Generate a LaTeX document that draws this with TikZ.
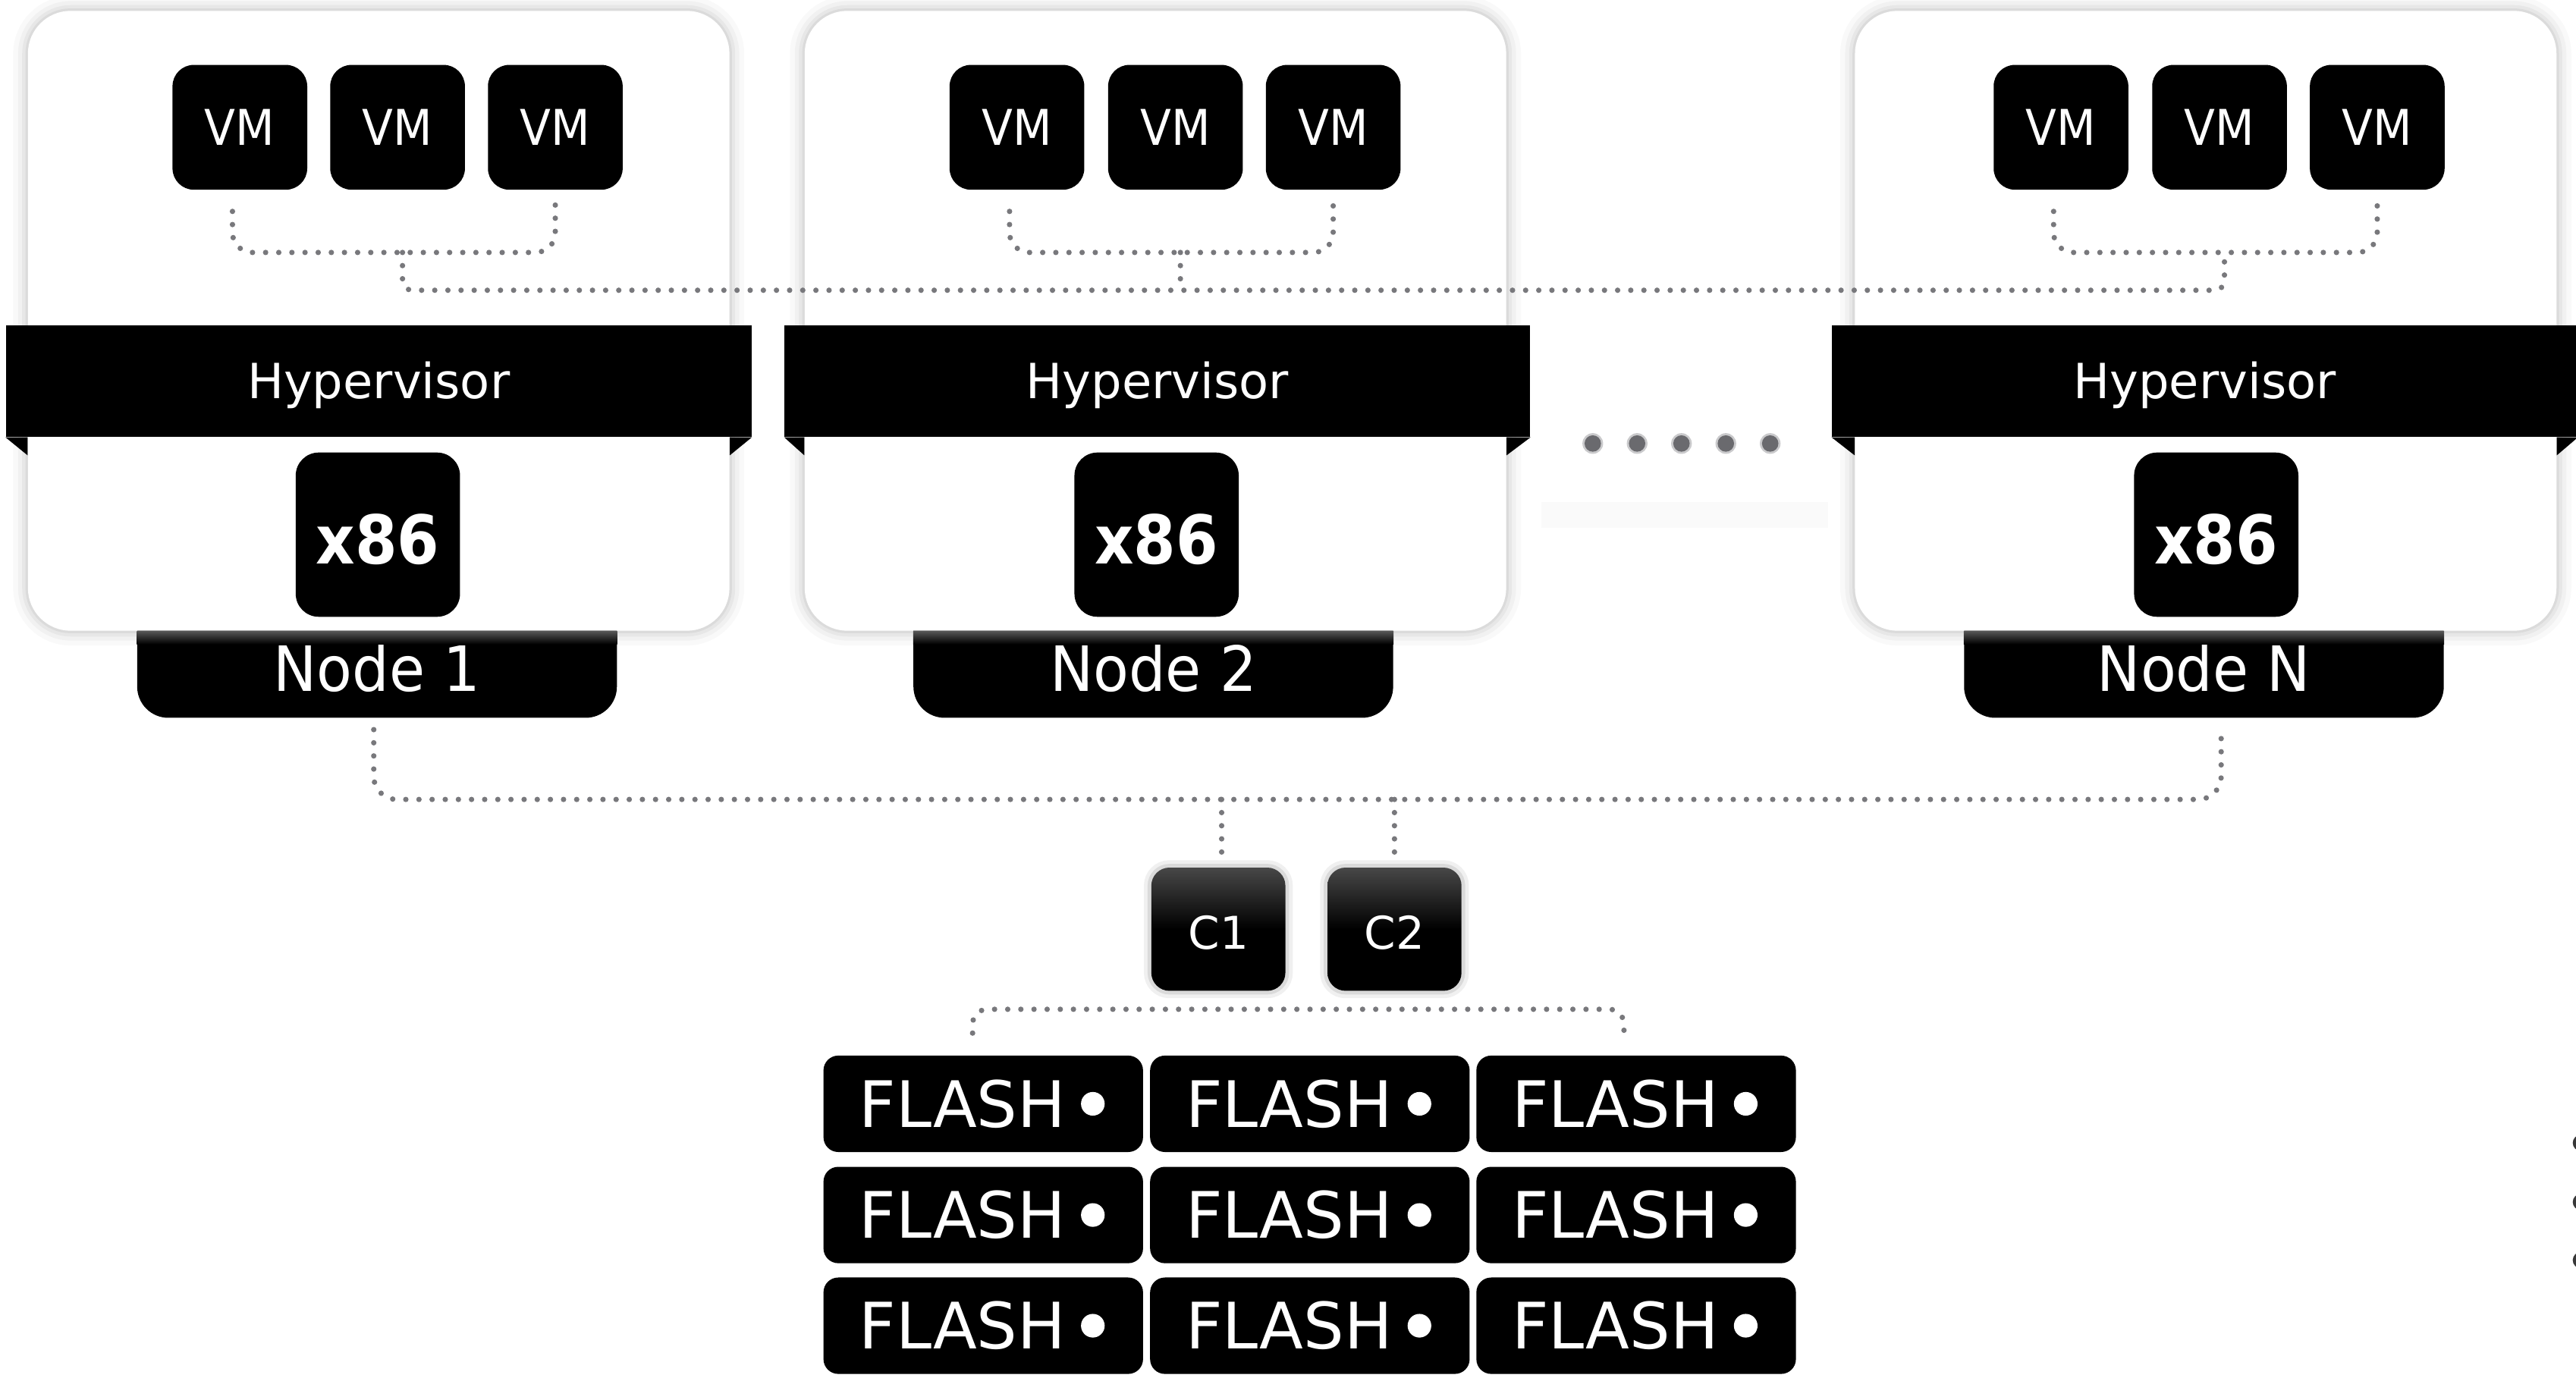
\documentclass[tikz,border=0pt]{standalone}
\usepackage{fontspec}
\newfontfamily\dv{DejaVu Sans}
\newfontfamily\fvm[FakeStretch=0.92]{DejaVu Sans}
\newfontfamily\fnd[FakeStretch=0.93]{DejaVu Sans}
\newfontfamily\fxb[FakeStretch=0.9]{DejaVu Sans Bold}
\definecolor{dotgray}{RGB}{120,120,124}
\definecolor{elgray}{RGB}{106,106,110}
\tikzset{
  halo/.style={preaction={draw=black,draw opacity=0.025,line width=18pt},
               preaction={draw=black,draw opacity=0.03,line width=12pt},
               preaction={draw=black,draw opacity=0.04,line width=7pt},
               preaction={draw=black,draw opacity=0.05,line width=3pt}},
  smallhalo/.style={preaction={draw=black,draw opacity=0.06,line width=9pt},
               preaction={draw=black,draw opacity=0.09,line width=4.5pt}},
  whitebox/.style={halo, fill=white, rounded corners=26pt, minimum width=427pt, minimum height=377.4pt, inner sep=0pt},
  hypbar/.style={fill=black, minimum width=454pt, minimum height=68pt, inner sep=0pt, text=white,
                 font=\dv\fontsize{29.5}{30}\selectfont, text height=21.5pt, text depth=0pt},
  vmbox/.style={fill=black, rounded corners=13pt, minimum width=82pt, minimum height=76pt, inner sep=0pt,
                text=white, font=\fvm\fontsize{30}{32}\selectfont},
  cpubox/.style={fill=black, rounded corners=14pt, minimum size=100pt, inner sep=0pt, text=white,
                 font=\fxb\fontsize{41}{43}\selectfont, text height=35.5pt, text depth=0pt},
  nlabel/.style={fill=black, rounded corners=19pt, minimum width=292pt, minimum height=73pt, inner sep=0pt,
                 text=white, font=\fnd\fontsize{38}{39}\selectfont, text height=40.5pt, text depth=0pt},
  ctrl/.style={smallhalo, rounded corners=11pt, top color=black!72, bottom color=black, middle color=black,
               minimum width=81.6pt, minimum height=75pt, inner sep=0pt, text=white,
               font=\dv\fontsize{27.5}{29}\selectfont, text height=24pt, text depth=0pt},
  flashbox/.style={fill=black, rounded corners=9pt, minimum width=194.5pt, minimum height=58.7pt, inner sep=0pt},
  flashtext/.style={text=white, font=\dv\fontsize{39}{40}\selectfont, inner sep=0pt},
  dotline/.style={draw=dotgray, line width=3.3pt, line cap=round, dash pattern=on 0pt off 8pt}
}
\begin{document}
\begin{tikzpicture}[x=1pt,y=-1pt]
\clip (0,0) rectangle (1568,838.5);
\fill[white] (0,0) rectangle (1568,838.5);

% node labels (top part hidden under the white boxes)
\node[nlabel] (lab1) at (229.5,400.5) {Node 1};
\node[nlabel] (lab2) at (702,400.5) {Node 2};
\node[nlabel] (labN) at (1341.5,400.5) {Node N};

% white server boxes
\node[whitebox] (box1) at (230.5,195.3) {};
\node[whitebox] (box2) at (703.3,195.3) {};
\node[whitebox] (boxN) at (1342.6,195.3) {};

% light gradient at the top of the labels
\foreach \n in {1,2,N}{
  \coordinate (gl\n) at (lab\n.west |- box\n.south);
  \coordinate (gr\n) at (lab\n.east |- box\n.south);
  \shade[top color=black!66, bottom color=black] (gl\n) rectangle ([yshift=-8pt]gr\n);
}

% hypervisor bars
\node[hypbar] (hyp1) at (230.5,232) {Hypervisor};
\node[hypbar] (hyp2) at (704.5,232) {Hypervisor};
\node[hypbar] (hypN) at (1342,232) {Hypervisor};
\foreach \n in {1,2,N}{
  \coordinate (fl\n) at (box\n.west |- hyp\n.south);
  \coordinate (fr\n) at (box\n.east |- hyp\n.south);
  \fill[black] (hyp\n.south west) -- (fl\n) -- ([yshift=-11pt]fl\n) -- cycle;
  \fill[black] (hyp\n.south east) -- (fr\n) -- ([yshift=-11pt]fr\n) -- cycle;
}

% VMs
\node[vmbox] (v11) at (146,77.5) {VM};
\node[vmbox] (v12) at (242,77.5) {VM};
\node[vmbox] (v13) at (338,77.5) {VM};
\node[vmbox] (v21) at (619,77.5) {VM};
\node[vmbox] (v22) at (715.5,77.5) {VM};
\node[vmbox] (v23) at (811.5,77.5) {VM};
\node[vmbox] (vN1) at (1254.5,77.5) {VM};
\node[vmbox] (vN2) at (1351,77.5) {VM};
\node[vmbox] (vN3) at (1447,77.5) {VM};

% x86
\node[cpubox] (p1) at (230,325.5) {x86};
\node[cpubox] (p2) at (704,325.5) {x86};
\node[cpubox] (pN) at (1349,325.5) {x86};

% VM brackets and stems
\foreach \n in {1,2,N}{
  \draw[dotline, rounded corners=12pt] ([xshift=-4.5pt,yshift=-13pt]v\n1.south) |- ([yshift=-38pt]v\n3.south) -- ([yshift=-9pt]v\n3.south);
  \coordinate (s\n) at ([xshift=3pt,yshift=-38pt]v\n2.south);
  \coordinate (t\n) at ([xshift=3pt,yshift=-61pt]v\n2.south);
}
\draw[dotline, rounded corners=6pt] (s1) -- (t1) -- (tN) -- (sN);
\draw[dotline] (s2) -- (t2);

% ellipsis between node 2 and node N
\fill[black!2] (938,305.5) rectangle (1112.6,321.3);
\foreach \x in {969.5,996.5,1023.5,1050.5,1077.5}{
  \fill[elgray, opacity=0.35] (\x,270) circle (6.3pt);
  \fill[elgray] (\x,270) circle (5pt);
}

% controllers
\node[ctrl] (c1) at (741.6,565.7) {C1};
\node[ctrl] (c2) at (848.8,565.7) {C2};

% flash shelf
\foreach \r/\y in {1/672,2/739.7,3/807.1}{
  \foreach \c/\x in {1/598.5,2/797.3,3/995.9}{
    \node[flashbox] (fb\r\c) at (\x,\y) {};
    \node[flashtext] (ft\r\c) at ([xshift=-12.6pt]fb\r\c.center) {FLASH};
    \fill[white] ([xshift=66.7pt]fb\r\c.center) circle (7.2pt);
  }
}

% node bus
\coordinate (a1) at ([xshift=-2pt,yshift=-7pt]lab1.south);
\coordinate (aN) at ([xshift=10.5pt,yshift=-7pt]labN.south);
\coordinate (bus1) at ([xshift=-2pt,yshift=-49.5pt]lab1.south);
\coordinate (busN) at ([xshift=10.5pt,yshift=-49.5pt]labN.south);
\draw[dotline, rounded corners=14pt] (a1) -- (bus1) -- (busN) -- (aN);
\coordinate (c1t) at ([xshift=2pt,yshift=2pt]c1.north);
\draw[dotline] (c1t |- bus1) -- (c1t);
\coordinate (c2t) at ([yshift=5pt]c2.north);
\draw[dotline] (c2t |- bus1) -- (c2t);

% flash bracket
\draw[dotline, rounded corners=9pt] ([xshift=-6.5pt,yshift=13.5pt]fb11.north) -- ([xshift=-6.5pt,yshift=28pt]fb11.north)
   -- ([xshift=-7.4pt,yshift=28pt]fb13.north) -- ([xshift=-7.4pt,yshift=10.5pt]fb13.north);

% dots at the right edge
\foreach \y in {695.8,731.8,767.2}{
  \fill[black!78] (1571,\y) circle (5pt);
}
\end{tikzpicture}
\end{document}
